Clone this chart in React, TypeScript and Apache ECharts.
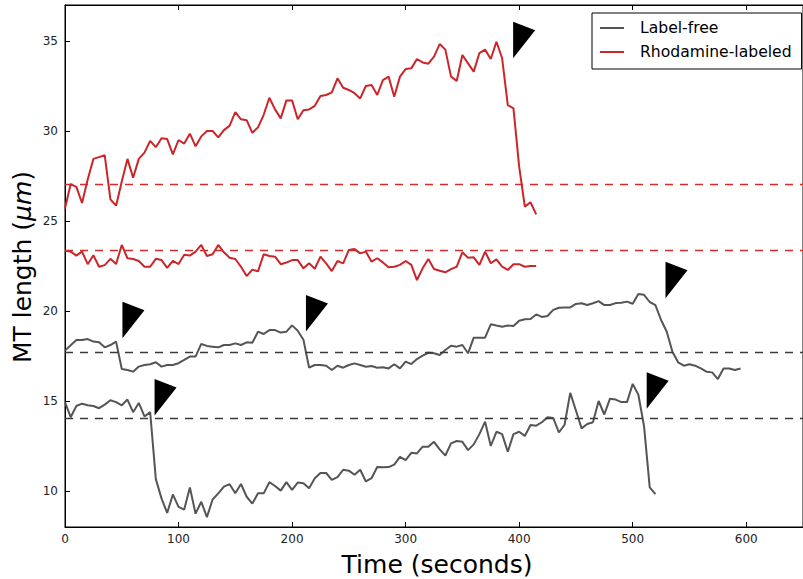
import React, { useEffect, useRef } from "react";
import * as echarts from "echarts";

// sampling step of the traces (seconds)
const TIME_STEP = 5;

// Rhodamine-labeled, growing plus-end trace (0 .. 415 s)
const redUpper = [
  25.7, 27.05, 26.9, 26.0, 27.3, 28.45, 28.55, 28.65, 26.2, 25.85,
  27.2, 28.45, 27.4, 28.45, 28.8, 29.45, 29.1, 29.6, 29.55, 28.7,
  29.5, 29.3, 29.85, 29.15, 29.7, 30.0, 30.0, 29.65, 30.05, 30.3,
  31.05, 30.65, 30.6, 29.9, 30.2, 30.9, 31.85, 31.2, 30.7, 31.7,
  31.7, 30.65, 31.15, 31.2, 31.4, 31.95, 32.0, 32.15, 32.93, 32.4,
  32.28, 32.1, 31.81, 32.5, 32.56, 32.0, 32.83, 33.02, 31.9, 33.02,
  33.44, 33.48, 34.0, 33.81, 33.74, 34.13, 34.83, 34.52, 33.02, 32.78,
  34.22, 33.76, 33.3, 34.33, 34.52, 34.0, 34.96, 34.04, 31.44, 31.26,
  28.02, 25.8, 26.04, 25.37,
];

// Rhodamine-labeled, second trace (0 .. 415 s)
const redLower = [
  23.35, 23.3, 23.08, 23.3, 22.6, 23.1, 22.46, 22.55, 22.9, 22.61,
  23.67, 22.93, 22.89, 22.78, 22.46, 22.46, 22.9, 22.83, 22.4, 22.78,
  22.61, 23.13, 23.08, 23.3, 23.67, 23.06, 23.15, 23.67, 23.26, 22.96,
  22.89, 22.46, 21.94, 22.3, 22.2, 23.15, 23.06, 23.02, 22.6, 22.69,
  22.83, 22.83, 22.37, 22.65, 22.35, 23.02, 22.65, 22.22, 22.78, 22.65,
  23.39, 23.44, 23.2, 23.3, 22.74, 22.93, 22.7, 22.43, 22.46, 22.56,
  22.78, 22.56, 21.72, 22.37, 22.89, 22.33, 22.24, 22.15, 22.33, 22.46,
  23.26, 22.96, 22.98, 22.56, 23.3, 22.65, 22.87, 22.46, 22.28, 22.6,
  22.6, 22.46, 22.5, 22.5,
];

// Label-free, upper trace (0 .. 595 s)
const grayUpper = [
  17.8, 18.1, 18.39, 18.39, 18.44, 18.3, 18.26, 17.98, 18.11, 18.3,
  16.78, 16.72, 16.63, 16.91, 17.0, 17.04, 17.15, 16.91, 17.0, 17.0,
  17.1, 17.28, 17.47, 17.47, 18.17, 18.06, 18.02, 17.98, 18.11, 18.11,
  18.2, 18.11, 18.26, 18.24, 18.85, 18.72, 18.94, 18.94, 18.8, 18.85,
  19.2, 18.9, 18.4, 16.85, 17.0, 17.0, 16.96, 16.72, 16.96, 16.85,
  17.0, 17.09, 17.0, 16.9, 16.94, 16.85, 16.87, 16.81, 17.04, 16.81,
  17.19, 17.05, 17.33, 17.52, 17.68, 17.65, 17.56, 17.83, 18.07, 18.02,
  18.11, 17.65, 18.52, 18.52, 18.52, 19.26, 19.19, 19.13, 19.19, 19.17,
  19.46, 19.54, 19.55, 19.81, 19.67, 19.72, 20.06, 20.18, 20.2, 20.2,
  20.39, 20.43, 20.33, 20.43, 20.55, 20.33, 20.33, 20.44, 20.46, 20.52,
  20.4, 20.95, 20.9, 20.5, 20.33, 19.5, 18.85, 17.74, 17.15, 16.96,
  17.04, 16.96, 16.81, 16.63, 16.59, 16.22, 16.81, 16.81, 16.72, 16.81,
];

// Label-free, lower trace (0 .. 520 s)
const grayLower = [
  14.94, 14.1, 14.72, 14.85, 14.76, 14.72, 14.6, 14.8, 15.04, 14.94,
  14.76, 15.08, 14.38, 14.89, 14.14, 14.38, 10.66, 9.59, 8.78, 9.81,
  9.12, 8.97, 10.19, 8.74, 9.4, 8.55, 9.53, 9.87, 10.24, 10.38,
  9.87, 10.39, 9.68, 9.3, 9.87, 9.87, 10.49, 10.28, 10.02, 10.49,
  10.06, 10.47, 10.43, 10.15, 10.71, 11.0, 11.0, 10.62, 10.77, 11.18,
  11.13, 10.9, 11.18, 10.53, 10.71, 11.33, 11.32, 11.33, 11.47, 11.9,
  11.71, 12.12, 12.09, 12.46, 12.46, 12.73, 12.31, 11.97, 12.65, 12.78,
  12.73, 12.27, 12.59, 13.16, 13.85, 12.5, 13.29, 13.16, 12.18, 13.16,
  13.29, 13.06, 13.67, 13.63, 13.82, 14.1, 14.06, 13.25, 13.68, 15.45,
  14.47, 13.48, 13.72, 13.82, 15.0, 14.25, 15.13, 15.08, 14.94, 14.94,
  15.95, 15.35, 13.6, 10.2, 9.83,
];

// horizontal dashed reference levels
const redLevels = [27.05, 23.35];
const grayLevels = [17.7, 14.05];

// catastrophe flags: [time, length] of the flag's top-left corner
const catastrophes = [
  [394.7, 36.07],
  [50.6, 20.52],
  [78.9, 16.22],
  [212.2, 20.89],
  [528.9, 22.74],
  [512.3, 16.6],
];

const xTicks = [0, 100, 200, 300, 400, 500, 600];
const yTicks = [10, 15, 20, 25, 30, 35];

const LABEL_FREE = "Label-free";
const RHODAMINE = "Rhodamine-labeled";

const GRAY = "#555555";
const RED = "#cc2529";
const FONT = "DejaVu Sans";

const toPairs = (vals: number[]) => vals.map((v, i) => [i * TIME_STEP, v]);

export default function App() {
  const ref = useRef<HTMLDivElement>(null);

  useEffect(() => {
    if (!ref.current) return;
    const chart = echarts.init(ref.current, undefined, { renderer: "svg" });

    const lineBase = {
      type: "line" as const,
      symbol: "none",
      showSymbol: false,
      z: 3,
    };
    const dashed = (levels: number[], color: string) => ({
      silent: true,
      symbol: ["none", "none"],
      label: { show: false },
      lineStyle: { type: [8, 7], width: 1.3, color },
      data: levels.map((v) => ({ yAxis: v })),
    });

    const option = {
      animation: false,
      grid: {
        left: 65,
        right: -6,
        top: 5,
        bottom: 52,
        show: true,
        borderColor: "#000",
        borderWidth: 1,
        backgroundColor: "#fff",
      },
      xAxis: [
        {
          type: "value",
          min: 0,
          max: 650,
          position: "bottom",
          axisLine: { show: true, lineStyle: { color: "#000", width: 1 } },
          axisTick: {
            show: true,
            inside: true,
            length: 5,
            customValues: xTicks,
            lineStyle: { color: "#000" },
          },
          axisLabel: {
            customValues: xTicks,
            color: "#222",
            fontFamily: FONT,
            fontSize: 12,
            margin: 6,
          },
          splitLine: { show: false },
        },
        {
          type: "value",
          min: 0,
          max: 650,
          position: "top",
          axisLine: { show: true, lineStyle: { color: "#000", width: 1 } },
          axisTick: {
            show: true,
            inside: true,
            length: 5,
            customValues: xTicks,
            lineStyle: { color: "#000" },
          },
          axisLabel: { show: false },
          splitLine: { show: false },
        },
      ],
      yAxis: {
        type: "value",
        min: 8,
        max: 37,
        axisLine: { show: true, lineStyle: { color: "#000", width: 1 } },
        axisTick: {
          show: true,
          inside: true,
          length: 5,
          customValues: yTicks,
          lineStyle: { color: "#000" },
        },
        axisLabel: {
          customValues: yTicks,
          color: "#222",
          fontFamily: FONT,
          fontSize: 12,
          margin: 7,
        },
        splitLine: { show: false },
      },
      legend: {
        data: [LABEL_FREE, RHODAMINE],
        orient: "vertical",
        left: 592,
        top: 13,
        padding: [6, 10, 8, 8],
        itemGap: 6,
        itemWidth: 24,
        itemHeight: 2,
        icon: "path://M0,0H24V2H0Z",
        borderColor: "#000",
        borderWidth: 1,
        borderRadius: 0,
        backgroundColor: "#fff",
        textStyle: {
          fontFamily: FONT,
          fontSize: 15.6,
          color: "#000",
          lineHeight: 18,
          padding: [0, 0, 0, 11],
        },
      },
      graphic: [
        {
          type: "text",
          x: 437,
          y: 564,
          style: {
            text: "Time (seconds)",
            fontFamily: FONT,
            fontSize: 25,
            fill: "#000",
            align: "center",
            verticalAlign: "middle",
          },
        },
        {
          type: "text",
          x: 22,
          y: 267,
          rotation: Math.PI / 2,
          style: {
            text: "MT length ({i|μm})",
            fontFamily: FONT,
            fontSize: 25,
            fill: "#000",
            align: "center",
            verticalAlign: "middle",
            rich: {
              i: {
                fontFamily: FONT,
                fontSize: 25,
                fontStyle: "italic",
                fill: "#000",
              },
            },
          },
        },
      ],
      series: [
        {
          ...lineBase,
          name: LABEL_FREE,
          data: toPairs(grayUpper),
          lineStyle: { width: 2, color: GRAY },
          itemStyle: { color: GRAY },
          markLine: dashed(grayLevels, "#3a3a3a"),
        },
        {
          ...lineBase,
          name: LABEL_FREE,
          data: toPairs(grayLower),
          lineStyle: { width: 2, color: GRAY },
          itemStyle: { color: GRAY },
        },
        {
          ...lineBase,
          name: RHODAMINE,
          data: toPairs(redUpper),
          lineStyle: { width: 2, color: RED },
          itemStyle: { color: RED },
          markLine: dashed(redLevels, "#d42a2a"),
        },
        {
          ...lineBase,
          name: RHODAMINE,
          data: toPairs(redLower),
          lineStyle: { width: 2, color: RED },
          itemStyle: { color: RED },
        },
        {
          type: "scatter",
          name: "catastrophe",
          data: catastrophes,
          symbol: "path://M0,0L22,8.5L0,36.5Z",
          symbolSize: [22, 36.5],
          symbolOffset: [11, 18.25],
          itemStyle: { color: "#000", opacity: 1 },
          silent: true,
          z: 5,
        },
      ],
    };

    chart.setOption(option as any);
    return () => chart.dispose();
  }, []);

  return (
    <div
      ref={ref}
      style={{ position: "fixed", left: 0, top: 0, width: 803, height: 579, background: "#fff" }}
    />
  );
}
